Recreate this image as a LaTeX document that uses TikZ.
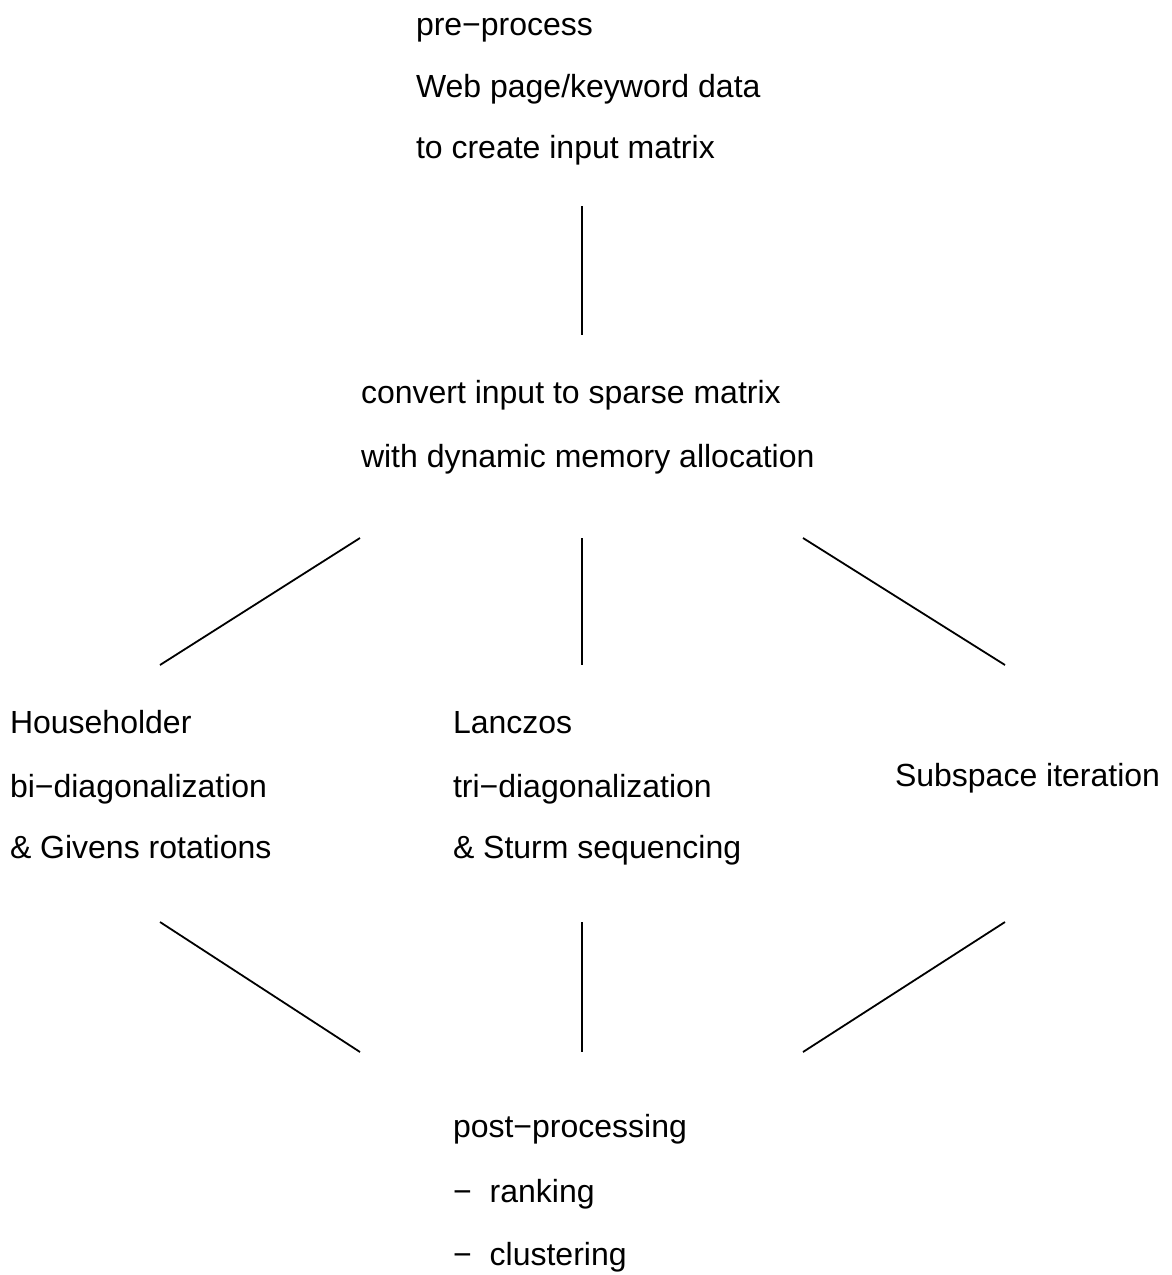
\documentclass[tikz,border=0pt]{standalone}
\usepackage{fontspec}
\setmainfont{Liberation Sans}
\begin{document}
\begin{tikzpicture}[x=1pt,y=-1pt,
  lbl/.style={anchor=base west,inner sep=0pt,outer sep=0pt,font=\fontsize{32}{38}\selectfont},
  conn/.style={line width=1.8pt,black}]
\useasboundingbox (0,0) rectangle (1171,1275);
% top block
\node[lbl] (pre1) at (416,35) {pre−process};
\node[lbl] (pre2) at (416,97) {Web page/keyword data};
\node[lbl] (pre3) at (416,158) {to create input matrix};
% convert block
\node[lbl] (cv1) at (361,403) {convert input to sparse matrix};
\node[lbl] (cv2) at (361,467) {with dynamic memory allocation};
% householder
\node[lbl] (hh1) at (10,733) {Householder};
\node[lbl] (hh2) at (10,797) {bi−diagonalization};
\node[lbl] (hh3) at (10,858) {\& Givens rotations};
% lanczos
\node[lbl] (lz1) at (453,733) {Lanczos};
\node[lbl] (lz2) at (453,797) {tri−diagonalization};
\node[lbl] (lz3) at (453,858) {\& Sturm sequencing};
% subspace
\node[lbl] (ss) at (895,786) {Subspace iteration};
% post
\node[lbl] (pp1) at (453,1137) {post−processing};
\node[lbl] (pp2) at (453,1202) {−\hspace{18pt}ranking};
\node[lbl] (pp3) at (453,1265) {−\hspace{18pt}clustering};
% connector end points
\coordinate (a1) at (582,206); \coordinate (a2) at (582,335);
\coordinate (b1) at (360,538); \coordinate (b2) at (160,665);
\coordinate (c1) at (582,538); \coordinate (c2) at (582,665);
\coordinate (d1) at (803,538); \coordinate (d2) at (1005,665);
\coordinate (e1) at (160,922); \coordinate (e2) at (360,1052);
\coordinate (f1) at (582,922); \coordinate (f2) at (582,1052);
\coordinate (g1) at (1005,922); \coordinate (g2) at (803,1052);
\draw[conn] (a1) -- (a2);
\draw[conn] (b1) -- (b2);
\draw[conn] (c1) -- (c2);
\draw[conn] (d1) -- (d2);
\draw[conn] (e1) -- (e2);
\draw[conn] (f1) -- (f2);
\draw[conn] (g1) -- (g2);
\end{tikzpicture}
\end{document}
